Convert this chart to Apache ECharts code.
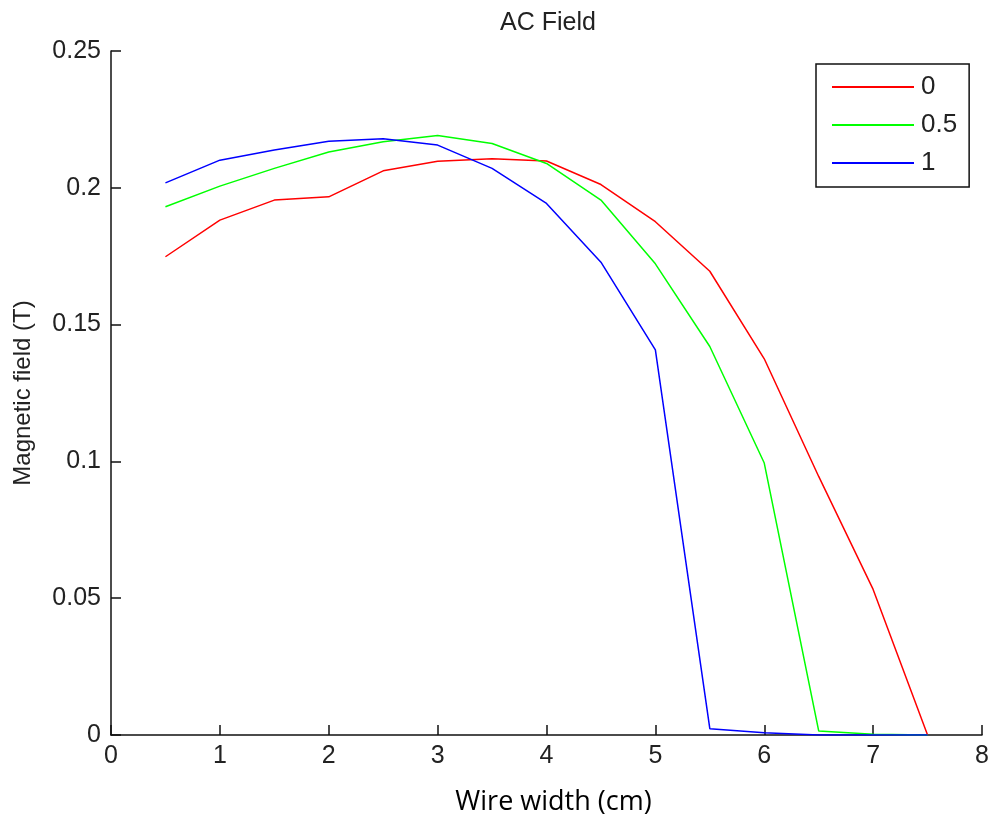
<!DOCTYPE html>
<html>
<head>
<meta charset="utf-8">
<script src="https://cdn.jsdelivr.net/npm/echarts@6/dist/echarts.min.js"></script>
<style>
html,body{margin:0;padding:0;background:#fff;}
#chart{width:994px;height:821px;}
</style>
</head>
<body>
<div id="chart"></div>
<script>
// Data
const xValues = [0.5, 1.0, 1.5, 2.0, 2.5, 3.0, 3.5, 4.0, 4.5, 5.0, 5.5, 6.0, 6.5, 7.0, 7.5];
const seriesNames = ['0', '0.5', '1'];
const field0   = [0.1748, 0.1882, 0.1955, 0.1967, 0.2062, 0.2097, 0.2106, 0.2098, 0.2012, 0.1876, 0.1695, 0.1375, 0.0945, 0.0532, 0.0];
const field05  = [0.1931, 0.2006, 0.2071, 0.2131, 0.2168, 0.2191, 0.2162, 0.2089, 0.1955, 0.1722, 0.1420, 0.0994, 0.0015, 0.0003, 0.0];
const field1   = [0.2018, 0.2101, 0.2138, 0.2170, 0.2179, 0.2156, 0.2071, 0.1943, 0.1728, 0.1408, 0.0023, 0.0008, 0.0, 0.0, 0.0];
const xTicks = [0, 1, 2, 3, 4, 5, 6, 7, 8];
const yTicks = [0, 0.05, 0.1, 0.15, 0.2, 0.25];

const colors = ['#ff0000', '#00ff00', '#0000ff'];
const allData = [field0, field05, field1];

const chart = echarts.init(document.getElementById('chart'), null, {renderer: 'canvas'});
const FONT = "'Liberation Sans', Arial, Helvetica, sans-serif";

const option = {
  animation: false,
  backgroundColor: '#ffffff',
  title: {
    text: 'AC Field',
    left: 543, top: 6, textAlign: 'center',
    textStyle: {fontFamily: FONT, fontSize: 25, fontWeight: 'normal', color: '#222'}
  },
  legend: {
    orient: 'vertical',
    left: 816, top: 64,
    padding: [10, 12, 11, 16],
    itemGap: 12,
    itemWidth: 82, itemHeight: 2,
    icon: 'rect',
    borderColor: '#111', borderWidth: 1.5,
    backgroundColor: '#fff',
    textStyle: {fontFamily: FONT, fontSize: 26, color: '#222', padding: [0,0,0,2]},
    data: seriesNames
  },
  grid: {left: 111, right: 12, top: 51, bottom: 85},
  xAxis: {
    type: 'value', min: xTicks[0], max: xTicks[xTicks.length-1], interval: 1,
    name: 'Wire width (cm)', nameLocation: 'middle', nameGap: 54,
    nameTextStyle: {fontFamily: "'Open Sans', Lato, sans-serif", fontSize: 27, color: '#000', padding: [0,0,0,14]},
    axisLine: {show: true, lineStyle: {color: '#111', width: 1.5}},
    axisTick: {show: true, inside: true, length: 10, lineStyle: {color: '#111', width: 1.5}},
    axisLabel: {fontFamily: FONT, fontSize: 25, color: '#222', margin: 9},
    splitLine: {show: false}
  },
  yAxis: {
    type: 'value', min: yTicks[0], max: yTicks[yTicks.length-1], interval: 0.05,
    name: 'Magnetic field (T)', nameLocation: 'middle', nameGap: 76, nameRotate: 90,
    nameTextStyle: {fontFamily: FONT, fontSize: 24, color: '#222'},
    axisLine: {show: true, lineStyle: {color: '#111', width: 1.5}},
    axisTick: {show: true, inside: true, length: 10, lineStyle: {color: '#111', width: 1.5}},
    axisLabel: {fontFamily: FONT, fontSize: 25, color: '#222', margin: 10,
      formatter: v => String(Math.round(v * 100) / 100)},
    splitLine: {show: false}
  },
  series: seriesNames.map((n, i) => ({
    name: n,
    type: 'line',
    symbol: 'none',
    showSymbol: false,
    color: colors[i],
    lineStyle: {color: colors[i], width: 1.5},
    data: xValues.map((x, j) => [x, allData[i][j]])
  }))
};
chart.setOption(option);
</script>
</body>
</html>
